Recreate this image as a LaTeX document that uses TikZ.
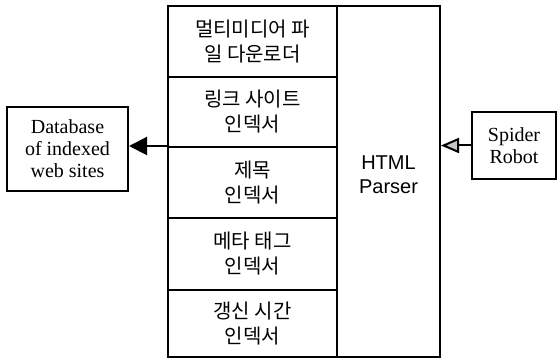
\documentclass[tikz,border=0pt]{standalone}
\usepackage{fontspec}
\setmainfont{Liberation Serif}
\newfontfamily\kr{Noto Sans CJK KR}
\newfontfamily\arial{Liberation Sans}
\usetikzlibrary{arrows.meta}

\begin{document}
\begin{tikzpicture}[x=0.5pt, y=-0.5pt, line width=1pt,
    every node/.style={draw, line width=1pt, inner sep=0pt, align=center},
    row/.style={minimum width=84.5pt, font=\kr\fontsize{10}{12.5}\selectfont},
    box/.style={font=\fontsize{10}{11}\selectfont}]
    \useasboundingbox (0,0) rectangle (558,358);

    \node (r1) at (252.5,41.5) [row, minimum height=35.5pt] {멀티미디어 파\\일 다운로더};
    \node (r2) at (252.5,112) [row, minimum height=35pt] {링크 사이트\\인덱서};
    \node (r3) at (252.5,182.5) [row, minimum height=35.5pt] {제목\\인덱서};
    \node (r4) at (252.5,254) [row, minimum height=36pt] {메타 태그\\인덱서};
    \node (r5) at (252.5,323.5) [row, minimum height=33.5pt] {갱신 시간\\인덱서};

    \node (parser) at (388.5,181.5) [minimum width=51.5pt, minimum height=175.5pt] {};
    \node[draw=none, font=\arial\fontsize{10}{12}\selectfont] (ptext) at (388.5,175) {HTML\\Parser};

    \node (db) at (67.5,149) [box, minimum width=60.5pt, minimum height=42pt] {Database\\of indexed\\web sites};
    \node (spider) at (514,145.5) [box, minimum width=42pt, minimum height=33.5pt] {Spider\\Robot};

    \draw[-{Triangle[length=9pt, width=9pt]}] (r3.north west) -- (r3.north west -| db.east);
    \draw[-{Triangle[length=9pt, width=7.5pt, fill=gray!45]}] (spider.west) -- (spider.west -| parser.east);
\end{tikzpicture}
\end{document}
